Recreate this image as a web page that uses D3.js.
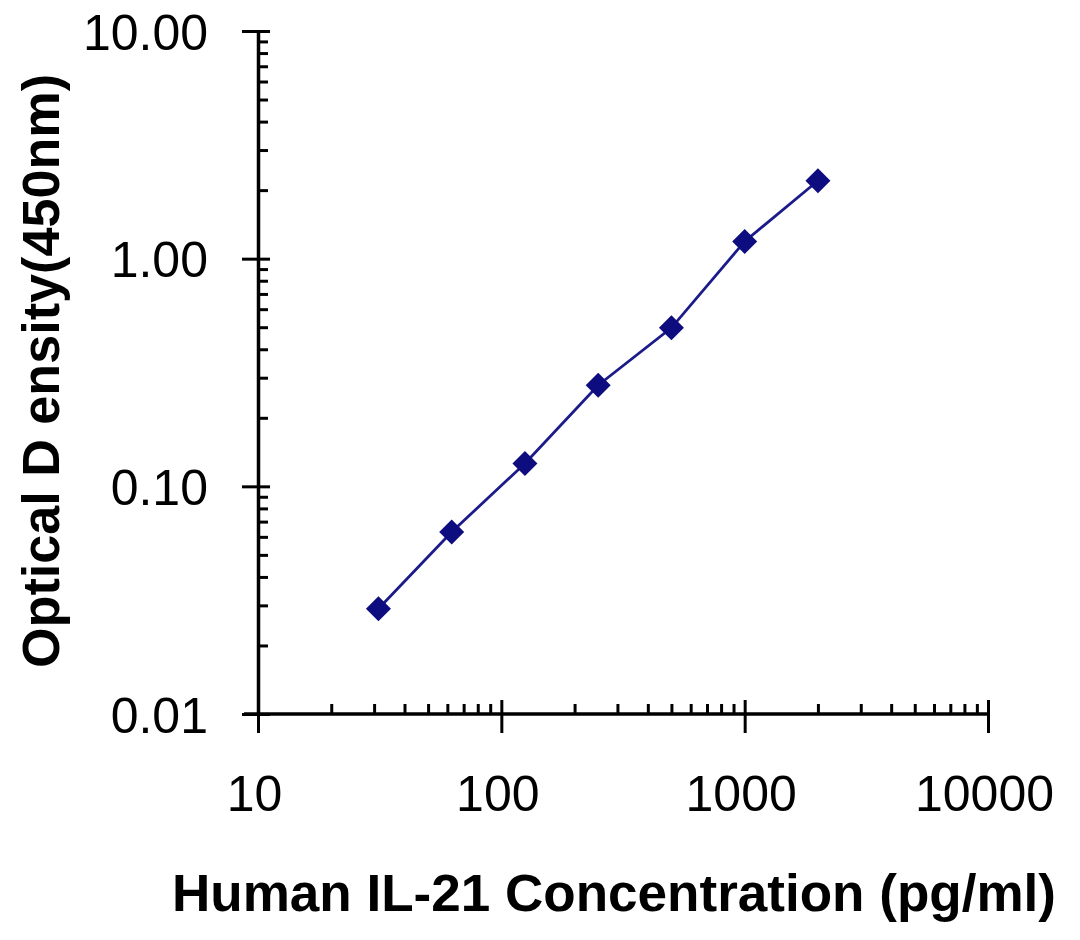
<!DOCTYPE html>
<html>
<head>
<meta charset="utf-8">
<script src="https://cdn.jsdelivr.net/npm/d3@7"></script>
<style>
  html, body { margin: 0; padding: 0; background: #fff; }
  svg text { font-family: "Liberation Sans", Arial, sans-serif; fill: #000; }
</style>
</head>
<body>
<svg id="chart" width="1080" height="940"></svg>
<script>
// ---- data ----
const concentration = [31.25, 62.5, 125, 250, 500, 1000, 2000];
const opticalDensity = [0.029, 0.063, 0.126, 0.278, 0.497, 1.19, 2.2];
const xTickValues = [10, 100, 1000, 10000];
const xTickLabels = ["10", "100", "1000", "10000"];
const yTickValues = [0.01, 0.1, 1, 10];
const yTickLabels = ["0.01", "0.10", "1.00", "10.00"];
const xTitle = "Human IL-21 Concentration (pg/ml)";
const yTitle = "Optical D ensity(450nm)";

const svg = d3.select("#chart");
const plotLeft = 258, plotRight = 988, plotTop = 31, plotBottom = 714;

const x = d3.scaleLog().domain([10, 10000]).range([plotLeft, plotRight]);
const y = d3.scaleLog().domain([0.01, 10]).range([plotBottom, plotTop]);

function minorTicks(majors) {
  const out = [];
  for (let i = 0; i < majors.length - 1; i++) {
    for (let k = 2; k <= 9; k++) out.push(majors[i] * k);
  }
  return out;
}

// ---- y axis ----
const gy = svg.append("g").attr("transform", `translate(${plotLeft},0)`);
gy.append("g")
  .call(d3.axisLeft(y).tickValues(minorTicks(yTickValues)).tickSize(-10).tickFormat(""))
  .call(g => g.select(".domain").remove());
const gyMaj = gy.append("g")
  .call(d3.axisLeft(y).tickValues(yTickValues).tickSize(16).tickSizeOuter(0)
    .tickFormat((d, i) => yTickLabels[i]).tickPadding(34));
gy.selectAll("line").attr("stroke", "#000").attr("stroke-width", 3);
gyMaj.selectAll(".tick line").attr("x1", 12).attr("x2", -16);
gyMaj.select(".domain").attr("stroke", "#000").attr("stroke-width", 3.5);
gyMaj.selectAll(".tick text").attr("font-size", 50).attr("dy", "0.36em");

// ---- x axis ----
const gx = svg.append("g").attr("transform", `translate(0,${plotBottom})`);
gx.append("g")
  .call(d3.axisBottom(x).tickValues(minorTicks(xTickValues)).tickSize(-10).tickFormat(""))
  .call(g => g.select(".domain").remove());
const gxMaj = gx.append("g")
  .call(d3.axisBottom(x).tickValues(xTickValues).tickSize(19).tickSizeOuter(0)
    .tickFormat((d, i) => xTickLabels[i]).tickPadding(42));
gx.selectAll("line").attr("stroke", "#000").attr("stroke-width", 3);
gxMaj.selectAll(".tick line").attr("y1", -14);
gxMaj.select(".domain").attr("stroke", "#000").attr("stroke-width", 3.5)
  .attr("d", `M${plotLeft - 14},0H${plotRight}`);
gxMaj.selectAll(".tick text").attr("font-size", 50).attr("dy", "0.71em")
  .attr("dx", -4);

// ---- line + markers ----
const data = concentration.map((c, i) => ({ c, v: opticalDensity[i] }));
svg.append("path")
  .datum(data)
  .attr("fill", "none")
  .attr("stroke", "#1b1b8a")
  .attr("stroke-width", 2.8)
  .attr("d", d3.line().x(d => x(d.c)).y(d => y(d.v)));

svg.selectAll(".pt")
  .data(data)
  .join("path")
  .attr("class", "pt")
  .attr("transform", d => `translate(${x(d.c)},${y(d.v)})`)
  .attr("d", "M0,-12.5L12.5,0L0,12.5L-12.5,0Z")
  .attr("fill", "#0d0d80");

// ---- titles ----
svg.append("text")
  .attr("x", 172).attr("y", 911)
  .attr("font-size", 51).attr("font-weight", "bold")
  .attr("textLength", 884).attr("lengthAdjust", "spacingAndGlyphs")
  .text(xTitle);

svg.append("text")
  .attr("transform", "translate(59,668) rotate(-90)")
  .attr("font-size", 51).attr("font-weight", "bold")
  .attr("textLength", 594).attr("lengthAdjust", "spacingAndGlyphs")
  .text(yTitle);
</script>
</body>
</html>
